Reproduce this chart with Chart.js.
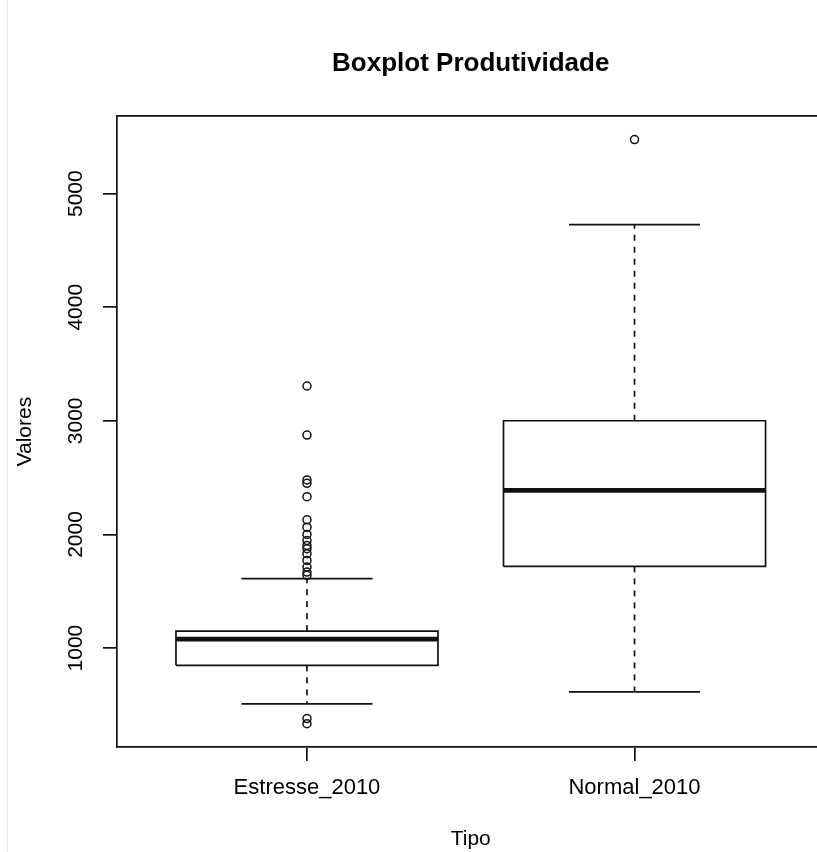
<!DOCTYPE html>
<html>
<head>
<meta charset="utf-8">
<title>Boxplot Produtividade</title>
<script src="https://cdn.jsdelivr.net/npm/chart.js@4"></script>
<style>
  html, body { margin: 0; padding: 0; background: #fff; overflow: hidden; }
  #wrap { position: relative; width: 817px; height: 852px; overflow: hidden; }
  #edge { position: absolute; left: 7px; top: 0; width: 1px; height: 852px; background: #e3e8ee; }
  canvas { display: block; }
</style>
</head>
<body>
<div id="wrap">
  <canvas id="box-chart" width="830" height="852"></canvas>
  <div id="edge"></div>
</div>
<script>
// Data
const categories = ['Estresse_2010', 'Normal_2010'];
const whiskerLow = [509, 614];
const q1 = [848, 1719];
const median = [1078, 2388];
const q3 = [1149, 3001];
const whiskerHigh = [1612, 4727];
const outliersEstresse = [3307, 2875, 2480, 2450, 2333, 2129, 2064, 2000, 1947, 1904, 1875, 1831, 1772, 1713, 1669, 1640, 380, 335];
const outliersNormal = [5476];
const outliers = [outliersEstresse, outliersNormal];
const yTicks = [1000, 2000, 3000, 4000, 5000];

// R style ranges: groups at 1..n, 4% extension
const xMin = 0.42, xMax = 2.58;
const allValues = [...whiskerLow, ...whiskerHigh, ...outliers.flat()];
const lo = Math.min(...allValues), hi = Math.max(...allValues);
const yMin = lo - (hi - lo) * 0.04;
const yMax = hi + (hi - lo) * 0.04;

const BOX_HALF = 0.4;
const CAP_HALF = 0.2;
const lineColor = '#111';
const lineW = 1.7;

Chart.defaults.font.family = '"Liberation Sans", Arial, sans-serif';
Chart.defaults.color = '#000';

function seg(points, extra) {
    return Object.assign({
        data: points,
        showLine: true,
        pointRadius: 0,
        pointHoverRadius: 0,
        borderColor: lineColor,
        borderWidth: lineW,
        borderJoinStyle: 'miter',
        fill: false
    }, extra || {});
}

// 1. Build boxes, whiskers, caps and outliers from the arrays
const datasets = [];
categories.forEach((name, i) => {
    const x = i + 1;
    datasets.push(seg([{ x: x, y: q3[i] }, { x: x, y: whiskerHigh[i] }], { borderDash: [6, 6] }));
    datasets.push(seg([{ x: x, y: q1[i] }, { x: x, y: whiskerLow[i] }], { borderDash: [6, 6] }));
    datasets.push(seg([{ x: x - CAP_HALF, y: whiskerHigh[i] }, { x: x + CAP_HALF, y: whiskerHigh[i] }]));
    datasets.push(seg([{ x: x - CAP_HALF, y: whiskerLow[i] }, { x: x + CAP_HALF, y: whiskerLow[i] }]));
    datasets.push(seg([
        { x: x - BOX_HALF, y: q1[i] },
        { x: x + BOX_HALF, y: q1[i] },
        { x: x + BOX_HALF, y: q3[i] },
        { x: x - BOX_HALF, y: q3[i] },
        { x: x - BOX_HALF, y: q1[i] }
    ]));
    datasets.push(seg([{ x: x - BOX_HALF, y: median[i] }, { x: x + BOX_HALF, y: median[i] }], { borderWidth: 4.8, borderCapStyle: 'butt' }));
    datasets.push({
        data: outliers[i].map(v => ({ x: x, y: v })),
        showLine: false,
        pointRadius: 4,
        pointHoverRadius: 4,
        pointBorderWidth: 1.5,
        pointBackgroundColor: 'rgba(0,0,0,0)',
        pointBorderColor: lineColor
    });
});

// 2. Chart
const ctx = document.getElementById('box-chart').getContext('2d');
new Chart(ctx, {
    type: 'scatter',
    data: { datasets: datasets },
    options: {
        responsive: false,
        animation: false,
        devicePixelRatio: 1,
        layout: { padding: { left: 0, right: 1, top: 0, bottom: 0 } },
        plugins: {
            legend: { display: false },
            tooltip: { enabled: false },
            title: {
                display: true,
                text: 'Boxplot Produtividade',
                fullSize: false,
                color: '#000',
                font: { size: 26, weight: 'bold' },
                padding: { top: 48, bottom: 37 }
            }
        },
        scales: {
            x: {
                type: 'linear',
                position: 'bottom',
                min: xMin,
                max: xMax,
                afterBuildTicks: s => { s.ticks = categories.map((c, i) => ({ value: i + 1 })); },
                afterFit: s => { s.height = 105; },
                ticks: {
                    callback: (v, i) => categories[i],
                    font: { size: 22 },
                    color: '#000',
                    padding: 14,
                    maxRotation: 0,
                    autoSkip: false
                },
                grid: { drawOnChartArea: false, drawTicks: true, tickLength: 14, color: lineColor, lineWidth: lineW },
                border: { display: true, color: lineColor, width: lineW },
                title: { display: true, text: 'Tipo', color: '#000', font: { size: 21 }, padding: { top: 0, bottom: 0 } }
            },
            x2: {
                type: 'linear',
                position: 'top',
                min: xMin,
                max: xMax,
                afterFit: s => { s.height = 0; },
                ticks: { display: false },
                grid: { drawOnChartArea: false, drawTicks: false },
                border: { display: true, color: lineColor, width: lineW }
            },
            y: {
                type: 'linear',
                min: yMin,
                max: yMax,
                afterBuildTicks: s => { s.ticks = yTicks.map(v => ({ value: v })); },
                afterFit: s => { s.width = 117; },
                ticks: {
                    callback: v => String(v),
                    minRotation: 90,
                    maxRotation: 90,
                    crossAlign: 'center',
                    padding: 3,
                    font: { size: 21 },
                    color: '#000'
                },
                grid: { drawOnChartArea: false, drawTicks: true, tickLength: 14, color: lineColor, lineWidth: lineW },
                border: { display: true, color: lineColor, width: lineW },
                title: { display: true, text: 'Valores', color: '#000', font: { size: 21 }, padding: { top: 13, bottom: 0 } }
            }
        }
    }
});
</script>
</body>
</html>
